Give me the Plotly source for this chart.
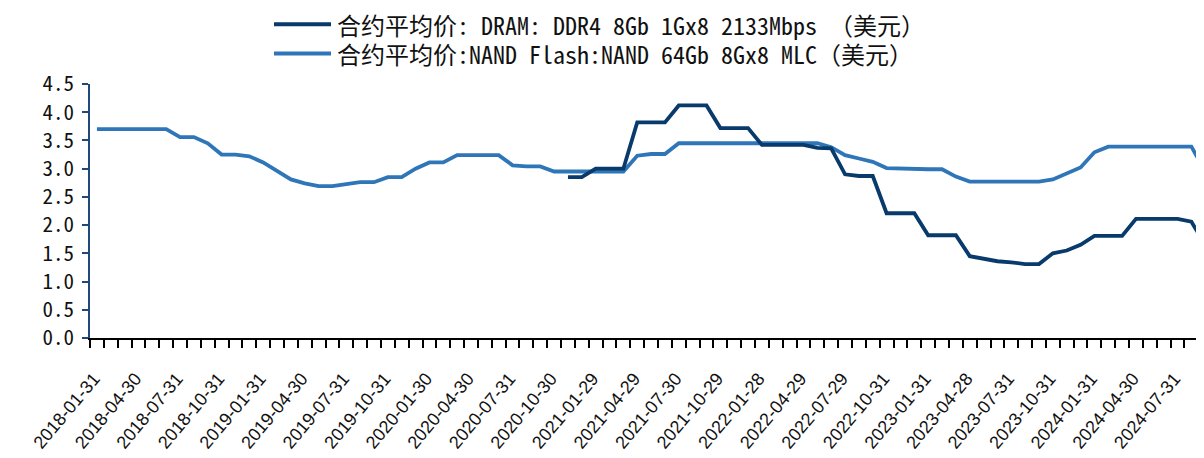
import plotly.graph_objects as go

# ---- data (monthly, index 0 = 2018-01) ----
tick_labels = ["2018-01-31", "2018-04-30", "2018-07-31", "2018-10-31",
               "2019-01-31", "2019-04-30", "2019-07-31", "2019-10-31",
               "2020-01-30", "2020-04-30", "2020-07-31", "2020-10-30",
               "2021-01-29", "2021-04-29", "2021-07-30", "2021-10-29",
               "2022-01-28", "2022-04-29", "2022-07-29", "2022-10-31",
               "2023-01-31", "2023-04-28", "2023-07-31", "2023-10-31",
               "2024-01-31", "2024-04-30", "2024-07-31"]

nand = [3.70, 3.70, 3.70, 3.70, 3.70, 3.70,
        3.56, 3.56, 3.45, 3.25, 3.25, 3.22,
        3.11, 2.95, 2.81, 2.74, 2.69, 2.69,
        2.73, 2.76, 2.76, 2.85, 2.85, 3.00,
        3.11, 3.11, 3.24, 3.24, 3.24, 3.24,
        3.06, 3.04, 3.04, 2.95, 2.95, 2.95,
        2.95, 2.95, 2.95, 3.23, 3.26, 3.26,
        3.45, 3.45, 3.45, 3.45, 3.45, 3.45, 3.45, 3.45, 3.45, 3.45, 3.45,
        3.38, 3.24, 3.18, 3.12, 3.01, 3.00, 2.99, 2.99, 2.99,
        2.86, 2.77, 2.77, 2.77, 2.77, 2.77, 2.77,
        2.81, 2.91, 3.02, 3.29,
        3.39, 3.39, 3.39, 3.39, 3.39, 3.39, 3.39,
        2.95]

dram = [None] * 34 + [
        2.85, 2.85, 3.00, 3.00, 3.00, 3.82, 3.82, 3.82,
        4.12, 4.12, 4.12, 3.72, 3.72, 3.72,
        3.42, 3.42, 3.42, 3.42, 3.37, 3.36,
        2.90, 2.87, 2.87, 2.21, 2.21, 2.21,
        1.82, 1.82, 1.82, 1.45, 1.40, 1.36,
        1.34, 1.31, 1.31, 1.50, 1.55, 1.65,
        1.81, 1.81, 1.81, 2.11, 2.11, 2.11, 2.11, 2.06,
        1.65]

name_dram = "合约平均价: DRAM: DDR4 8Gb 1Gx8 2133Mbps （美元）"
name_nand = "合约平均价:NAND Flash:NAND 64Gb 8Gx8 MLC（美元）"

c_dram = "#083a6c"
c_nand = "#2f76b8"
axis_blue = "#1f497d"
mono = "Noto Sans Mono CJK SC, Noto Sans CJK SC, sans-serif"

x_idx = list(range(len(nand)))
tick_idx = list(range(0, 3 * len(tick_labels), 3))

fig = go.Figure()
fig.add_trace(go.Scatter(x=x_idx, y=nand, mode="lines", name=name_nand,
                         line=dict(color=c_nand, width=3.8), showlegend=False))
fig.add_trace(go.Scatter(x=x_idx, y=dram, mode="lines", name=name_dram,
                         line=dict(color=c_dram, width=3.8), showlegend=False,
                         connectgaps=False))

# ---- layout ----
# the page body has an 8px margin, so the figure is sized/placed to compensate
OFF = 8
W, H = 1204 - OFF, 458 - OFF
L, R, T, B = 90 - OFF, 0, 84 - OFF, 120
pw, ph = W - L - R, H - T - B


def px2paper(px, py):
    # px, py in browser-window pixels
    fx, fy = px - OFF, py - OFF
    return (fx - L) / pw, (H - B - fy) / ph


FS = 24
shapes, annotations = [], []
for (name, col, ly) in [(name_dram, c_dram, 24.3), (name_nand, c_nand, 53.6)]:
    x0, y0 = px2paper(274, ly)
    x1, _ = px2paper(331, ly)
    xt, _ = px2paper(336, ly)
    shapes.append(dict(type="line", xref="paper", yref="paper",
                       x0=x0, x1=x1, y0=y0, y1=y0,
                       line=dict(color=col, width=4)))
    annotations.append(dict(xref="paper", yref="paper", x=xt, y=y0,
                            xanchor="left", yanchor="middle", align="left",
                            text=name, showarrow=False, borderpad=0,
                            font=dict(family=mono, size=FS, color="#111")))

fig.update_layout(
    width=W, height=H,
    margin=dict(l=L, r=R, t=T, b=B, pad=0, autoexpand=False),
    paper_bgcolor="white", plot_bgcolor="white",
    shapes=shapes, annotations=annotations,
    showlegend=False,
    xaxis=dict(
        range=[-0.5, 79.91], automargin=False,
        tickmode="array", tickvals=tick_idx, ticktext=tick_labels,
        tickangle=-50, ticks="outside", ticklen=0, tickcolor="black",
        ticklabelstandoff=21, ticklabelshift=-3,
        tickfont=dict(family="Liberation Sans, Arial, sans-serif", size=18, color="#111"),
        showline=True, linecolor="black", linewidth=2,
        showgrid=False, zeroline=False,
        minor=dict(ticks="outside", ticklen=8, tickwidth=1.5, tickcolor="black",
                   tickmode="linear", tick0=-0.5, dtick=1, showgrid=False),
    ),
    yaxis=dict(
        range=[0, 4.5], tickmode="linear", tick0=0, dtick=0.5, tickformat=".1f",
        automargin=False,
        ticks="outside", ticklen=6, tickwidth=1.5, tickcolor=axis_blue,
        showline=True, linecolor=axis_blue, linewidth=1.5,
        showgrid=False, zeroline=False,
        tickfont=dict(family=mono, size=21, color="#111"),
        ticklabelstandoff=4,
    ),
)

fig.write_html("out.html")
